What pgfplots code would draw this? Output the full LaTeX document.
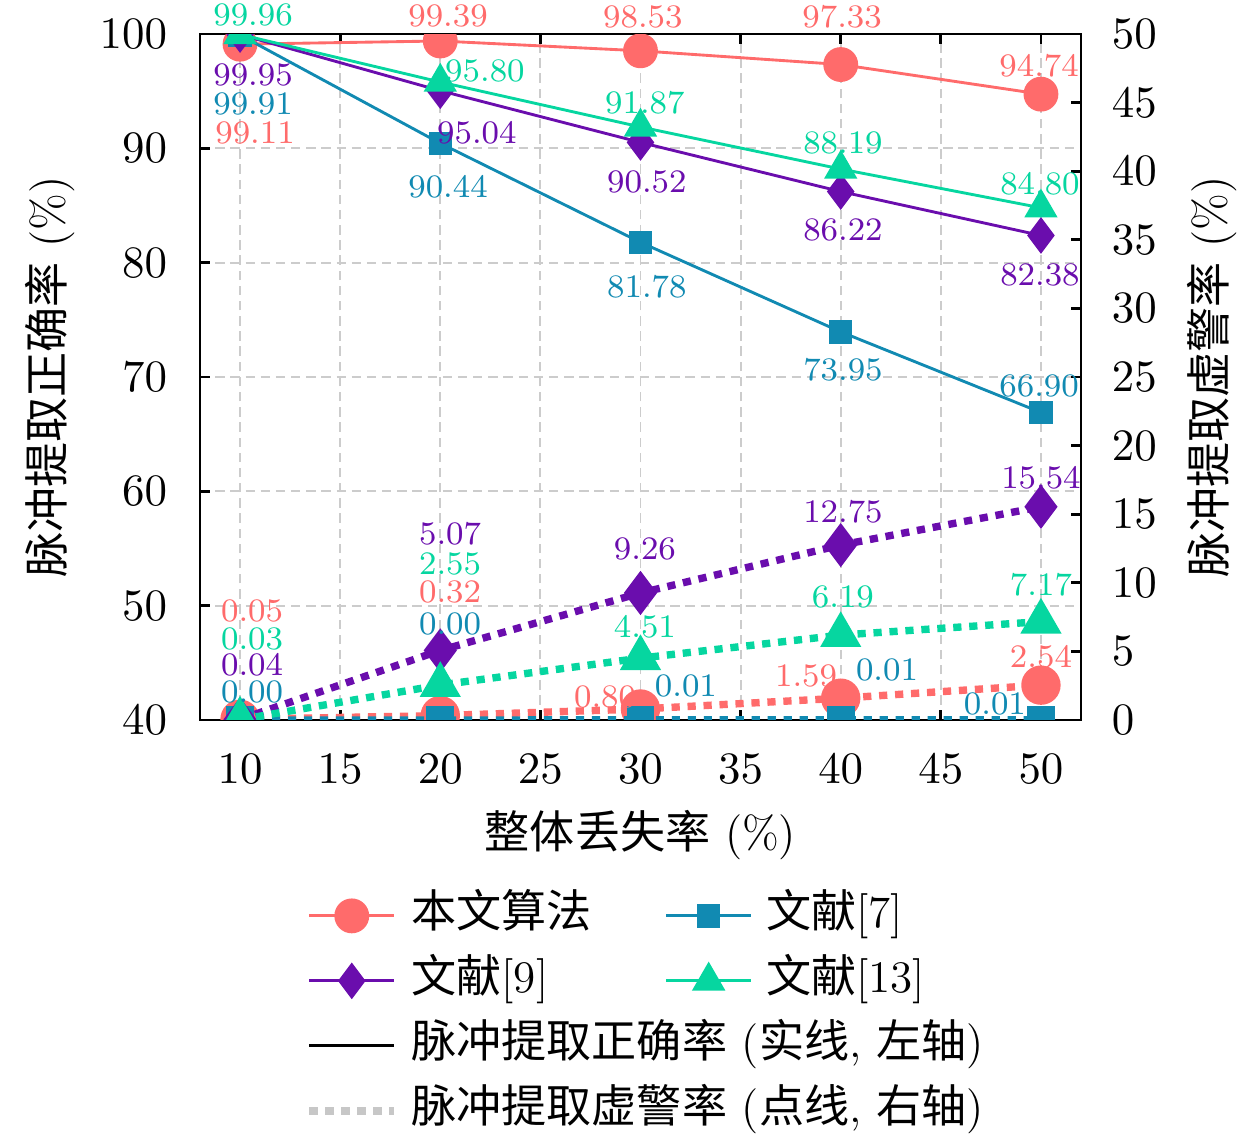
\documentclass[border=0pt]{standalone}
\usepackage{fontspec}
\usepackage{pgfplots}
\pgfplotsset{compat=1.18}
\newfontfamily\cjk{Noto Sans CJK SC}
\definecolor{cRed}{HTML}{FF6B6B}
\definecolor{cBlue}{HTML}{118AB2}
\definecolor{cPurple}{HTML}{6A0DAD}
\definecolor{cGreen}{HTML}{06D6A0}
\newcommand{\lab}[4]{\node[text=#1, font=\fontsize{8}{9}\selectfont, inner sep=0pt] at (axis cs:#2,#3) {#4};}
\begin{document}
\begin{tikzpicture}[font=\fontsize{11}{13}\selectfont]
\pgfplotsset{
  common/.style={
    scale only axis, width=214.88pt, height=167.32pt,
    xmin=8, xmax=52,
    tick align=inside, major tick length=2.5pt,
    axis line style={line width=0.7pt, black},
    tick style={line width=0.7pt, black},
    clip mode=individual, clip marker paths=true,
  },
  dotline/.style={line width=1.8pt, dash pattern=on 2pt off 1.9pt},
}
\begin{axis}[common,
  ymin=40, ymax=100,
  xtick={10,15,...,50}, ytick={40,50,...,100},
  xtick pos=both, ytick pos=left,
  grid=major, major grid style={dash pattern=on 2.3pt off 1.4pt, color=black!20, line width=0.45pt},
  xlabel={{\cjk 整体丢失率} (\%)},
  ylabel={{\cjk 脉冲提取正确率} (\%)},
  xlabel style={at={(axis description cs:0.5,-0.1676)}, anchor=center},
  ylabel style={at={(axis description cs:-0.170,0.5)}, anchor=center},
  xticklabel style={yshift=-4.9pt},
  yticklabel style={xshift=-4.5pt},
  legend columns=2,
  legend cell align=left,
  legend image code/.code={\draw[mark repeat=2,mark phase=2] plot coordinates {(0pt,0pt)(10.35pt,0pt)(20.7pt,0pt)};},
  legend style={at={(axis description cs:0.119,-0.247)}, anchor=north west, draw=none, fill=none,
    inner sep=0pt, row sep=3.35pt,
    nodes={inner sep=1pt, text height=8pt, text depth=2.5pt, anchor=west},
    /tikz/every odd column/.append style={column sep=2.3pt},
    /tikz/every even column/.append style={column sep=16.8pt}},
]
\addplot[cRed, line width=0.7pt, mark=*, mark size=3.9pt] coordinates {(10,99.11)(20,99.39)(30,98.53)(40,97.33)(50,94.74)};
\addlegendentry{{\cjk 本文算法}}
\addplot[cBlue, line width=0.7pt, mark=square*, mark size=2.5pt] coordinates {(10,99.91)(20,90.44)(30,81.78)(40,73.95)(50,66.90)};
\addlegendentry{{\cjk 文献}[7]}
\addplot[cPurple, line width=0.7pt, mark=diamond*, mark size=3.9pt] coordinates {(10,99.95)(20,95.04)(30,90.52)(40,86.22)(50,82.38)};
\addlegendentry{{\cjk 文献}[9]}
\addplot[cGreen, line width=0.7pt, mark=triangle*, mark size=4pt] coordinates {(10,99.96)(20,95.80)(30,91.87)(40,88.19)(50,84.80)};
\addlegendentry{{\cjk 文献}[13]}
\addlegendimage{black, line width=0.7pt}
\addlegendentry{\rlap{{\cjk 脉冲提取正确率} ({\cjk 实线}, {\cjk 左轴})}}
\addlegendimage{empty legend}
\addlegendentry{}
\addlegendimage{color=black!22, dotline}
\addlegendentry{\rlap{{\cjk 脉冲提取虚警率} ({\cjk 点线}, {\cjk 右轴})}}
\addlegendimage{empty legend}
\addlegendentry{}
\end{axis}
\begin{axis}[common,
  ymin=0, ymax=50,
  axis x line=none, axis y line*=right,
  ytick={0,5,...,50},
  ylabel={{\cjk 脉冲提取虚警率} (\%)},
  ylabel style={at={(axis description cs:1.1487,0.5)}, anchor=center},
  yticklabel style={xshift=4pt},
]
\addplot[cRed, dotline, mark=*, mark size=3.9pt, mark options={solid}] coordinates {(10,0.05)(20,0.32)(30,0.80)(40,1.59)(50,2.54)};
\addplot[cBlue, dotline, mark=square*, mark size=2.5pt, mark options={solid}] coordinates {(10,0.00)(20,0.00)(30,0.01)(40,0.01)(50,0.01)};
\addplot[cPurple, dotline, mark=diamond*, mark size=3.9pt, mark options={solid}] coordinates {(10,0.04)(20,5.07)(30,9.26)(40,12.75)(50,15.54)};
\addplot[cGreen, dotline, mark=triangle*, mark size=4pt, mark options={solid}] coordinates {(10,0.03)(20,2.55)(30,4.51)(40,6.19)(50,7.17)};
% accuracy labels (positions in right-axis units)
\lab{cGreen}{10.65}{51.38}{99.96}
\lab{cPurple}{10.65}{47.01}{99.95}
\lab{cBlue}{10.65}{44.90}{99.91}
\lab{cRed}{10.75}{42.78}{99.11}
\lab{cRed}{20.39}{51.31}{99.39}
\lab{cGreen}{22.23}{47.30}{95.80}
\lab{cPurple}{21.83}{42.78}{95.04}
\lab{cBlue}{20.39}{38.85}{90.44}
\lab{cRed}{30.12}{51.24}{98.53}
\lab{cGreen}{30.22}{44.97}{91.87}
\lab{cPurple}{30.32}{39.21}{90.52}
\lab{cBlue}{30.32}{31.56}{81.78}
\lab{cRed}{40.07}{51.24}{97.33}
\lab{cGreen}{40.11}{42.06}{88.19}
\lab{cPurple}{40.11}{35.71}{86.22}
\lab{cBlue}{40.11}{25.51}{73.95}
\lab{cRed}{49.91}{47.67}{94.74}
\lab{cGreen}{49.95}{39.07}{84.80}
\lab{cPurple}{49.95}{32.43}{82.38}
\lab{cBlue}{49.91}{24.34}{66.90}
% false alarm labels
\lab{cRed}{10.60}{7.94}{0.05}
\lab{cGreen}{10.60}{5.90}{0.03}
\lab{cPurple}{10.60}{4.01}{0.04}
\lab{cBlue}{10.60}{2.04}{0.00}
\lab{cPurple}{20.49}{13.56}{5.07}
\lab{cGreen}{20.49}{11.37}{2.55}
\lab{cRed}{20.49}{9.33}{0.32}
\lab{cBlue}{20.49}{7.00}{0.00}
\lab{cPurple}{30.22}{12.46}{9.26}
\lab{cGreen}{30.22}{6.78}{4.51}
\lab{cRed}{28.23}{1.68}{0.80}
\lab{cBlue}{32.27}{2.48}{0.01}
\lab{cPurple}{40.11}{15.16}{12.75}
\lab{cGreen}{40.11}{8.96}{6.19}
\lab{cRed}{38.27}{3.21}{1.59}
\lab{cBlue}{42.31}{3.64}{0.01}
\lab{cPurple}{50.0}{17.64}{15.54}
\lab{cGreen}{50.0}{9.84}{7.17}
\lab{cRed}{50.0}{4.59}{2.54}
\lab{cBlue}{47.70}{1.17}{0.01}
\end{axis}
\pgfresetboundingbox
\path[use as bounding box] (-48.78pt,-102.44pt) rectangle (258.54pt,175.61pt);
\end{tikzpicture}
\end{document}
